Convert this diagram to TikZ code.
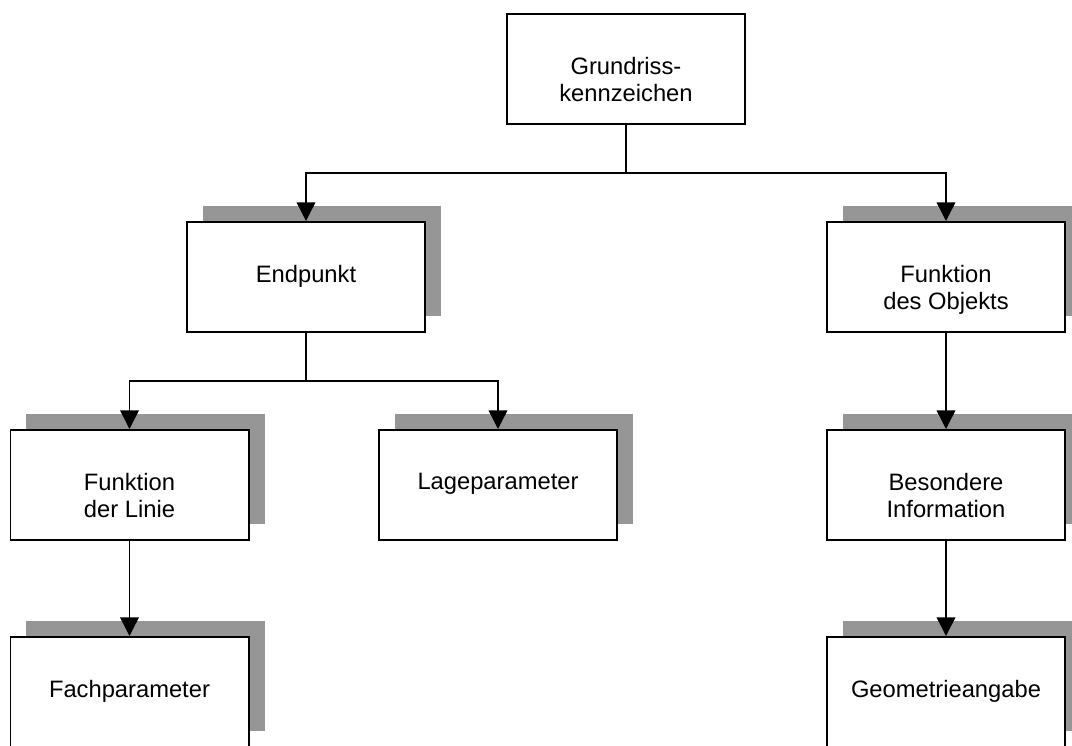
\documentclass[tikz,border=0pt]{standalone}
\usepackage{fontspec}
\setmainfont{Liberation Sans}
\usetikzlibrary{arrows.meta,shadows}
\definecolor{shgray}{RGB}{150,150,150}

% box with its text set from the top edge
\newcommand\kasten[5]{% style, name, x, y, text
  \node[kbox,#1] (#2) at (#3,#4) {};
  \node[ktext] (#2-t) at ([yshift=-33pt]#2.north) {#5};
}

\begin{document}
\begin{tikzpicture}[x=0.75pt,y=-0.75pt,
  kbox/.style={draw, line width=1.4pt, fill=white,
    minimum width=178.6pt, minimum height=82.6pt, inner sep=0pt},
  kshadow/.style={general shadow={fill=shgray, shadow xshift=12pt, shadow yshift=12pt}},
  ktext/.style={anchor=north, inner sep=0pt, align=center,
    font=\fontsize{17.8}{20}\selectfont},
  conn/.style={line width=1.1pt},
  arr/.style={conn, -{Triangle[width=14pt,length=14pt]}}]

\useasboundingbox (0,0) rectangle (1072,746);
\clip (0,0) rectangle (1072,746);

% boxes
\kasten{}{gk}{626}{69}{Grundriss-\\kennzeichen}
\kasten{kshadow}{ep}{306}{277}{Endpunkt}
\kasten{kshadow}{fo}{946}{277}{Funktion\\des Objekts}
\kasten{kshadow}{fl}{129.5}{485}{Funktion\\der Linie}
\kasten{kshadow}{lp}{498}{485}{Lageparameter}
\kasten{kshadow}{bi}{946}{485}{Besondere\\Information}
\kasten{kshadow}{fp}{129.5}{692}{Fachparameter}
\kasten{kshadow}{ge}{946}{692}{Geometrieangabe}

% branching points
\coordinate (j1) at (626,173);
\coordinate (j2) at (306,381);

% connectors
\draw[conn] (gk.south) -- (j1);
\draw[arr] (j1) -| (ep.north);
\draw[arr] (j1) -| (fo.north);
\draw[conn] (ep.south) -- (j2);
\draw[arr] (j2) -| (fl.north);
\draw[arr] (j2) -| (lp.north);
\draw[arr] (fl.south) -- (fp.north);
\draw[arr] (fo.south) -- (bi.north);
\draw[arr] (bi.south) -- (ge.north);
\end{tikzpicture}
\end{document}
